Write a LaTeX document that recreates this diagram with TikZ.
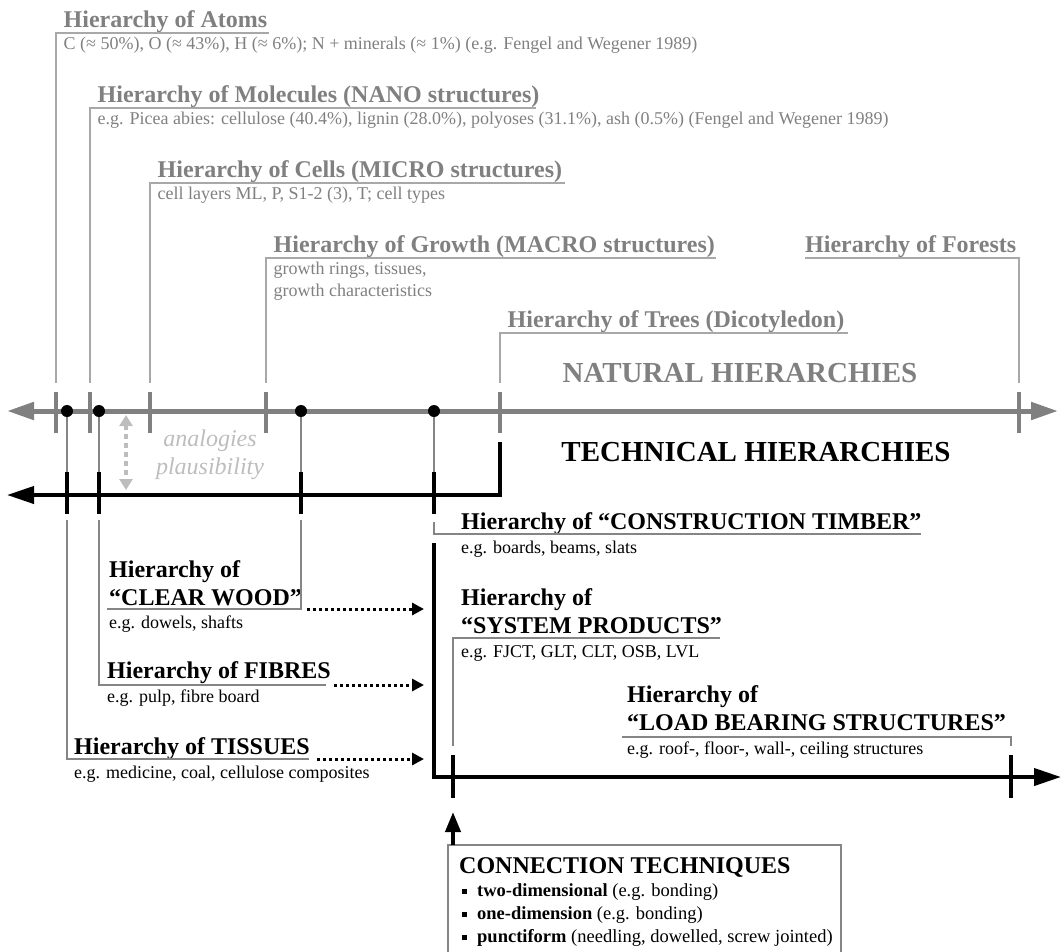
\documentclass[tikz,border=0pt]{standalone}
\usepackage{fontspec}
\setmainfont{Liberation Serif}
\usetikzlibrary{arrows.meta}
\definecolor{natGray}{HTML}{808080}
\definecolor{natLine}{HTML}{A8A8A8}
\definecolor{techLine}{HTML}{858585}
\definecolor{hintGray}{HTML}{BDBDBD}

\begin{document}
\begin{tikzpicture}[
  x=1pt, y=-1pt,
  nattitle/.style={font=\fontsize{24}{27}\selectfont\bfseries, text=natGray, inner sep=0pt, anchor=base west},
  natdesc/.style={font=\fontsize{18}{22}\selectfont, text=natGray, inner sep=0pt, anchor=base west, align=left},
  techtitle/.style={font=\fontsize{24}{28}\selectfont\bfseries, inner sep=0pt, anchor=base west, align=left},
  techdesc/.style={font=\fontsize{18}{22}\selectfont, inner sep=0pt, anchor=base west},
  headline/.style={font=\fontsize{29}{32}\selectfont\bfseries, inner sep=0pt},
  hint/.style={font=\fontsize{24}{28}\selectfont\itshape, text=hintGray, inner sep=0pt, align=center, anchor=base},
  natline/.style={natLine, line width=1.4pt},
  techline/.style={techLine, line width=1.4pt},
  natAxis/.style={natGray, line width=5pt},
  natTick/.style={natGray, line width=3.5pt},
  techAxis/.style={black, line width=4pt},
  techTick/.style={black, line width=4pt},
  dot/.style={circle, fill=black, inner sep=0pt, minimum size=12pt},
  dotArrow/.style={black, line width=3pt, dash pattern=on 3pt off 3pt, -{Triangle[length=12pt, width=12pt]}},
  hintArrow/.style={hintGray, line width=4pt, dash pattern=on 5pt off 4pt,
    {Triangle[length=11pt, width=13pt]}-{Triangle[length=11pt, width=13pt]}},
  boxline/.style={techLine, line width=1.3pt},
  bigTip/.style={-{Triangle[length=27pt, width=17pt]}}
]
\useasboundingbox (0,0) rectangle (1064,951);

% natural hierarchy: name, tick x, line y, line end x, title, description (last line baseline)
\newcommand{\natlevel}[7]{%
  \coordinate (#1Tick) at (#2,383);
  \coordinate (#1End) at (#4,#3);
  \node[nattitle] (#1Title) at (#2+7.5,#3-6) {#5};
  \node[natdesc] (#1Desc) at (#2+7.5,#3+#7) {#6};
  \draw[natline] (#1Tick) |- (#1End);
}
\natlevel{atoms}{56}{33}{269}{Hierarchy of Atoms}{C (≈ 50\%), O (≈ 43\%), H (≈ 6\%); N + minerals (≈ 1\%) (e.g. Fengel and Wegener 1989)}{16.5}
\natlevel{mol}{90}{108}{536}{Hierarchy of Molecules (NANO structures)}{e.g. Picea abies: cellulose (40.4\%), lignin (28.0\%), polyoses (31.1\%), ash (0.5\%) (Fengel and Wegener 1989)}{16.5}
\natlevel{cells}{150}{183}{565}{Hierarchy of Cells (MICRO structures)}{cell layers ML, P, S1-2 (3), T; cell types}{16.5}
\natlevel{growth}{266}{258}{716}{Hierarchy of Growth (MACRO structures)}{growth rings, tissues,\\growth characteristics}{38.5}
\natlevel{trees}{500}{333}{848}{Hierarchy of Trees (Dicotyledon)}{}{16.5}

% forests hangs to the left of its tick
\coordinate (forTick) at (1019,383);
\coordinate (forEnd) at (805,258);
\node[nattitle] (forTitle) at (805,252) {Hierarchy of Forests};
\draw[natline] (forTick) |- (forEnd);

% natural axis
\coordinate (natLeft) at (7,411);
\coordinate (natRight) at (1058,411);
\draw[natAxis, {Triangle[length=27pt, width=17pt]}-{Triangle[length=27pt, width=17pt]}] (natLeft) -- (natRight);
\foreach \x in {56,90,150,266,500,1019}
  \draw[natTick] (\x,392) -- (\x,433);

\node[headline, text=natGray] (natural) at (740,373) {NATURAL HIERARCHIES};
\node[headline] (technical) at (756,452) {TECHNICAL HIERARCHIES};

% technical axis
\coordinate (treeFoot) at (500,442);
\coordinate (techLeft) at (7,495);
\draw[techAxis, bigTip] (treeFoot) |- (techLeft);

\foreach \x/\n in {67/tiss, 99/fib, 301/cw, 434/con} {
  \node[dot] (\n Dot) at (\x,411) {};
  \coordinate (\n Top) at (\x,472);
  \coordinate (\n Foot) at (\x,514);
  \draw[techline, line width=1.2pt] (\n Dot) -- (\n Top);
  \draw[techTick] (\n Top) -- (\n Foot);
}

% analogies
\coordinate (hintTop) at (126,415);
\coordinate (hintBot) at (126,490);
\draw[hintArrow] (hintTop) -- (hintBot);
\node[hint] (analogy) at (210,474) {analogies\\plausibility};

% clear wood
\coordinate (cwLink) at (301,520);
\coordinate (cwEnd) at (107,609);
\node[techtitle] (cwTitle) at (109,605) {Hierarchy of\\“CLEAR WOOD”};
\node[techdesc] (cwDesc) at (109,628) {e.g. dowels, shafts};
\draw[techline] (cwLink) |- (cwEnd);

% fibres
\coordinate (fibLink) at (99,520);
\coordinate (fibEnd) at (326,685);
\node[techtitle] (fibTitle) at (107,678) {Hierarchy of FIBRES};
\node[techdesc] (fibDesc) at (107,702) {e.g. pulp, fibre board};
\draw[techline] (fibLink) |- (fibEnd);

% tissues
\coordinate (tissLink) at (67,520);
\coordinate (tissEnd) at (309,759);
\node[techtitle] (tissTitle) at (74,754) {Hierarchy of TISSUES};
\node[techdesc] (tissDesc) at (74,778) {e.g. medicine, coal, cellulose composites};
\draw[techline] (tissLink) |- (tissEnd);

% feeds into construction timber
\coordinate (cwFrom) at (307,609);   \coordinate (cwTo) at (424,609);
\coordinate (fibFrom) at (334,685);  \coordinate (fibTo) at (424,685);
\coordinate (tissFrom) at (317,759); \coordinate (tissTo) at (424,759);
\draw[dotArrow] (cwFrom) -- (cwTo);
\draw[dotArrow] (fibFrom) -- (fibTo);
\draw[dotArrow] (tissFrom) -- (tissTo);

% construction timber
\coordinate (conLink) at (434,522);
\coordinate (conEnd) at (921,534);
\node[techtitle] (conTitle) at (461,529) {Hierarchy of “CONSTRUCTION TIMBER”};
\node[techdesc] (conDesc) at (461,553) {e.g. boards, beams, slats};
\draw[techline] (conLink) |- (conEnd);

% main technical bar
\coordinate (barTop) at (434,543);
\coordinate (barRight) at (1061,777);
\draw[techAxis, bigTip] (barTop) |- (barRight);

% system products
\coordinate (sysLink) at (453,746);
\coordinate (sysEnd) at (720,638);
\node[techtitle] (sysTitle) at (461,633) {Hierarchy of\\“SYSTEM PRODUCTS”};
\node[techdesc] (sysDesc) at (461,657) {e.g. FJCT, GLT, CLT, OSB, LVL};
\draw[techline] (sysLink) |- (sysEnd);

% load bearing structures
\coordinate (loadLink) at (1011,746);
\coordinate (loadEnd) at (622,737);
\node[techtitle] (loadTitle) at (627,730) {Hierarchy of\\“LOAD BEARING STRUCTURES”};
\node[techdesc] (loadDesc) at (627,754) {e.g. roof-, floor-, wall-, ceiling structures};
\draw[techline] (loadLink) |- (loadEnd);

\foreach \x in {453,1011}
  \draw[techTick] (\x,755) -- (\x,798);

% connection techniques
\coordinate (boxLeft) at (448,960);
\coordinate (boxTopRight) at (841,845);
\coordinate (boxRight) at (841,960);
\draw[boxline] (boxLeft) |- (boxTopRight) -- (boxRight);
\coordinate (connFoot) at (453,845);
\coordinate (connTip) at (453,812);
\draw[techAxis, -{Triangle[length=20pt, width=15pt]}] (connFoot) -- (connTip);
\node[techtitle] (connTitle) at (459,873) {CONNECTION TECHNIQUES};
\foreach \b/\r/\y in {two-dimensional/{(e.g. bonding)}/896, one-dimension/{(e.g. bonding)}/919, punctiform/{(needling, dowelled, screw jointed)}/942}
  \node[techdesc, font=\fontsize{18.5}{22}\selectfont] (bullet\y) at (462,\y) {\rule[2pt]{5pt}{5pt}\hspace{10pt}\textbf{\b} \r};
\end{tikzpicture}
\end{document}
